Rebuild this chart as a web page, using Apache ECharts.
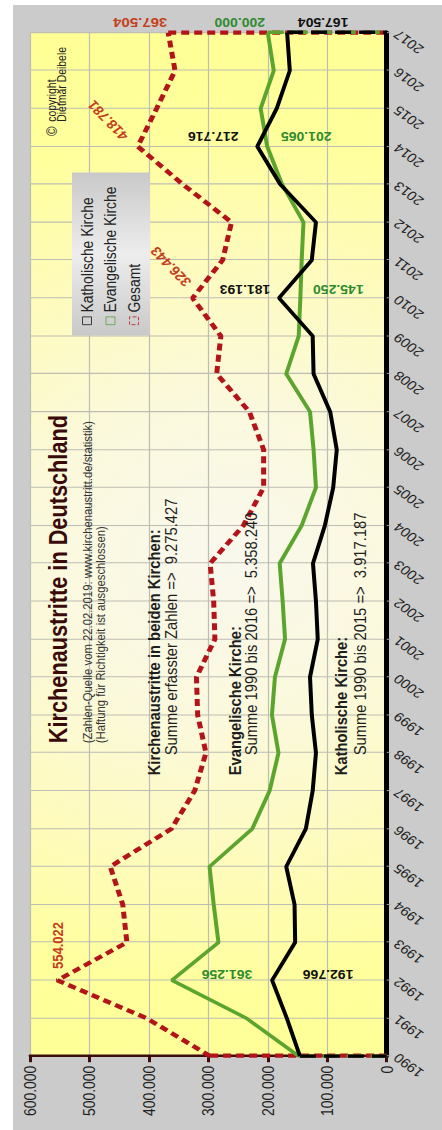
<!DOCTYPE html>
<html>
<head>
<meta charset="utf-8">
<title>Kirchenaustritte in Deutschland</title>
<style>
  html, body { margin: 0; padding: 0; background: #fff; overflow: hidden; }
  #wrap { position: absolute; left: 0; top: 0; width: 442px; height: 1130px; overflow: hidden; }
  /* chart is drawn landscape, then turned on its side like the scan */
  #main {
    position: absolute; left: 0; top: 0;
    width: 1300px; height: 442px;
    transform-origin: 0 0;
    transform: translateY(1130px) rotate(-90deg) scaleX(0.8692);
  }
</style>
<script src="https://cdn.jsdelivr.net/npm/echarts/dist/echarts.min.js"></script>
</head>
<body>
<div id="wrap"><div id="main"></div></div>
<script>
const years = ['1990', '1991', '1992', '1993', '1994', '1995', '1996', '1997', '1998', '1999',
  '2000', '2001', '2002', '2003', '2004', '2005', '2006', '2007', '2008', '2009',
  '2010', '2011', '2012', '2013', '2014', '2015', '2016', '2017'];

const katholisch = [146000, 168000, 192766, 154000, 155000, 169000, 136000, 124500, 119000, 126000,
  129000, 116000, 119000, 124000, 104000, 90000, 84000, 95000, 123000, 124500,
  181193, 126000, 119000, 179000, 217716, 185000, 163000, 167504];

const evangelisch = [148000, 236000, 361256, 283000, 291000, 298000, 226000, 197000, 182000, 193000,
  188000, 171000, 175000, 180000, 143000, 119000, 123000, 129000, 169000, 148000,
  145250, 143000, 140000, 176000, 201065, 212000, 190000, 200000];

const gesamt = [297000, 404000, 554022, 437000, 444000, 465000, 362000, 323000, 304000, 318000,
  320000, 289000, 291000, 297000, 241000, 207000, 207000, 231000, 286000, 279000,
  326443, 276000, 261000, 343000, 418781, 387000, 356000, 367504];

const labeledYears = ['1992', '2010', '2014', '2017'];

const valueMax = 600000;
const valueStep = 100000;

const FONT = '"Liberation Sans", Arial, sans-serif';

const kathStyle = { color: '#000000', width: 4 };
const evStyle = { color: '#5ba52e', width: 4 };
const gesStyle = { color: '#b3141a', width: 5, type: [8, 5], cap: 'butt' };

// label offsets from the point (px), rotation (deg)
const labelLook = [
  { data: katholisch, color: '#111111', size: 14, offs: { '1992': [7, 56, 90], '2010': [10, -34, 90], '2014': [12, -44, 90], '2017': [12, 36, 90] } },
  { data: evangelisch, color: '#2f8a2f', size: 14, offs: { '1992': [7, 55, 90], '2010': [10, 38, 90], '2014': [12, 39, 90], '2017': [12, -28, 90] } },
  { data: gesamt, color: '#c4401c', size: 15, offs: { '1992': [40, 0, 0], '2010': [36, -22, 40], '2014': [30, -30, 40], '2017': [12, -28, 90] } }
];

function fmt(v) {
  return String(v).replace(/\B(?=(\d{3})+(?!\d))/g, '.');
}

function closing(data, z, lineStyle) {
  const last = years.length - 1;
  return {
    symbol: 'none', silent: true, z: z, animation: false,
    label: { show: false },
    emphasis: { disabled: true },
    lineStyle: lineStyle,
    data: [
      [{ coord: [years[0], data[0]] }, { coord: [years[0], 0] }],
      [{ coord: [years[last], data[last]] }, { coord: [years[last], 0] }]
    ]
  };
}

var chart = echarts.init(document.getElementById('main'), null, { renderer: 'svg' });

var option = {
  animation: false,
  backgroundColor: '#cbcbcb',
  textStyle: { fontFamily: FONT },
  grid: {
    left: 85, right: 37.6, top: 30, bottom: 55.3,
    show: true, borderWidth: 0,
    backgroundColor: new echarts.graphic.RadialGradient(656, 226, 620, [
      { offset: 0, color: '#f9f8ee' },
      { offset: 0.3, color: '#fbf9dc' },
      { offset: 0.55, color: '#fefbbe' },
      { offset: 0.8, color: '#ffff9c' },
      { offset: 1, color: '#ffff96' }
    ], true)
  },
  legend: {
    orient: 'vertical', left: 914, top: 72,
    padding: [7, 16, 8, 12], itemGap: 7.5,
    itemWidth: 9, itemHeight: 9,
    selectedMode: false,
    backgroundColor: new echarts.graphic.LinearGradient(0, 0, 1, 0, [
      { offset: 0, color: '#c9c9c9' },
      { offset: 0.5, color: '#ededed' },
      { offset: 1, color: '#c9c9c9' }
    ]),
    textStyle: { fontFamily: FONT, fontSize: 16, color: '#222', lineHeight: 16 },
    data: [
      { name: 'Katholische Kirche', icon: 'rect', itemStyle: { color: 'rgba(0,0,0,0)', borderColor: '#333', borderWidth: 1 } },
      { name: 'Evangelische Kirche', icon: 'rect', itemStyle: { color: 'rgba(0,0,0,0)', borderColor: '#6aa84f', borderWidth: 1 } },
      { name: 'Gesamt', icon: 'rect', itemStyle: { color: 'rgba(0,0,0,0)', borderColor: '#c0303a', borderWidth: 1, borderType: 'dashed' } }
    ]
  },
  xAxis: {
    type: 'category',
    data: years,
    boundaryGap: false,
    axisLine: { lineStyle: { color: '#000', width: 5 } },
    axisTick: { show: true, length: 4, lineStyle: { color: '#a8a8a8' } },
    axisLabel: { interval: 0, rotate: 50, margin: 9, fontSize: 15, color: '#1e1e1e', fontFamily: FONT },
    splitLine: { show: true, lineStyle: { color: '#bdbdb4', width: 1.2 } }
  },
  yAxis: {
    type: 'value',
    min: 0, max: valueMax, interval: valueStep,
    axisLine: { show: true, lineStyle: { color: '#3b0d0d', width: 3 } },
    axisTick: { show: true, length: 7, lineStyle: { color: '#3b0d0d', width: 3 } },
    axisLabel: { margin: 11, fontSize: 16, color: '#1e1e1e', fontFamily: FONT, formatter: fmt },
    splitLine: { show: true, lineStyle: { color: '#bdbdb4', width: 1.2 } }
  },
  series: [
    { name: 'Katholische Kirche', type: 'line', data: katholisch, symbol: 'none', z: 4, clip: false,
      lineStyle: kathStyle, itemStyle: { color: kathStyle.color }, markLine: closing(katholisch, 4, kathStyle) },
    { name: 'Evangelische Kirche', type: 'line', data: evangelisch, symbol: 'none', z: 3, clip: false,
      lineStyle: evStyle, itemStyle: { color: evStyle.color }, markLine: closing(evangelisch, 3, evStyle) },
    { name: 'Gesamt', type: 'line', data: gesamt, symbol: 'none', z: 2, clip: false,
      lineStyle: gesStyle, itemStyle: { color: gesStyle.color }, markLine: closing(gesamt, 2, gesStyle) }
  ]
};

chart.setOption(option);

function txt(text, x, y, size, opts) {
  opts = opts || {};
  return {
    type: 'text', x: x, y: y, z: 50, silent: true,
    rotation: (opts.rot || 0) * Math.PI / 180,
    style: {
      text: text,
      fontFamily: FONT, fontSize: size, fontWeight: opts.bold ? 'bold' : 'normal',
      fill: opts.color || '#1e1e1e',
      align: opts.align || 'left', textAlign: opts.align || 'left',
      verticalAlign: 'middle', textVerticalAlign: 'middle'
    }
  };
}

var elements = [
  { type: 'rect', z: 60, silent: true, shape: { x: 0, y: 0, width: 1300, height: 13 }, style: { fill: '#ffffff' } },
  { type: 'rect', z: 60, silent: true, shape: { x: 1294.3, y: 0, width: 6, height: 442 }, style: { fill: '#ffffff' } },

  txt('Kirchenaustritte in Deutschland', 445, 58, 25, { bold: true, color: '#3a0a0a' }),
  txt('(Zahlen-Quelle vom 22.02.2019: www.kirchenaustritt.de/statistik)', 445, 87.5, 13, { color: '#333' }),
  txt('(Haftung für Richtigkeit ist ausgeschlossen)', 445, 101, 13, { color: '#333' }),

  txt('Kirchenaustritte in beiden Kirchen:', 408, 154, 17, { bold: true }),
  txt('Summe erfasster Zahlen =>  9.275.427', 431, 171.5, 17),
  txt('Evangelische Kirche:', 408, 235, 17, { bold: true }),
  txt('Summe 1990 bis 2016 =>  5.358.240', 431, 251.5, 17),
  txt('Katholische Kirche:', 408, 341.5, 17, { bold: true }),
  txt('Summe 1990 bis 2015 =>  3.917.187', 431, 360, 17),

  txt('©', 1149, 52, 15, { align: 'center', color: '#222' }),
  txt('copyright', 1160, 52, 12, { color: '#222' }),
  txt('Dietmar Deibele', 1160, 62, 12, { color: '#222' })
];

labelLook.forEach(function (s) {
  labeledYears.forEach(function (yr) {
    var i = years.indexOf(yr);
    var p = chart.convertToPixel({ gridIndex: 0 }, [i, s.data[i]]);
    var o = s.offs[yr];
    elements.push(txt(fmt(s.data[i]), p[0] + o[0], p[1] + o[1], s.size,
      { bold: true, color: s.color, align: 'center', rot: o[2] }));
  });
});

chart.setOption({ graphic: elements });
</script>
</body>
</html>
